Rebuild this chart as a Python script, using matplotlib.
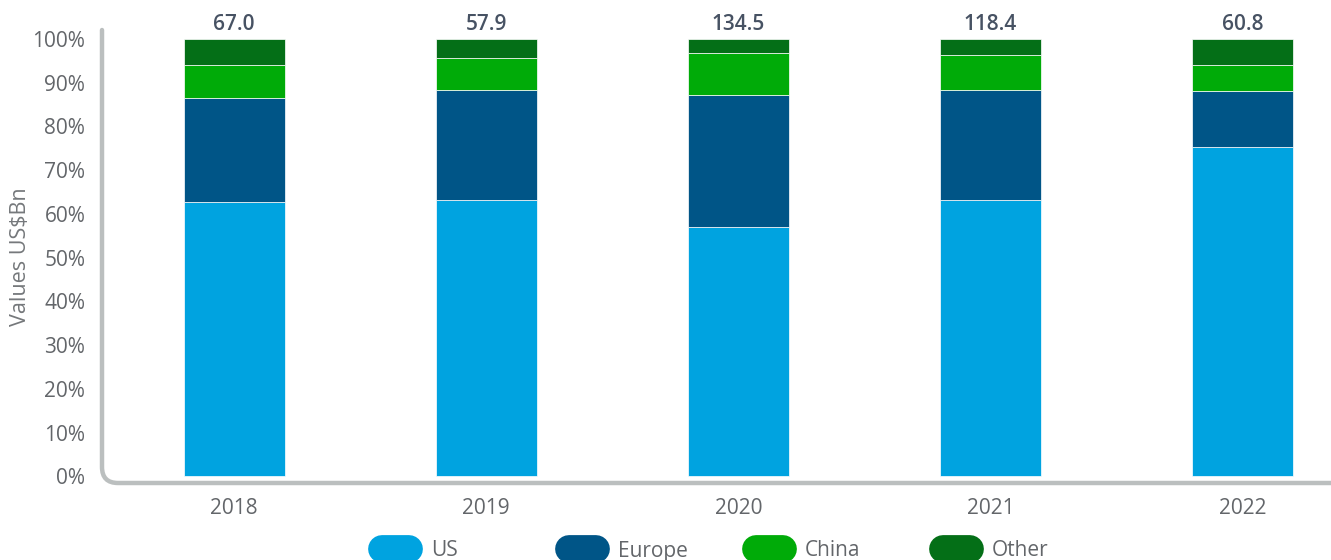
import numpy as np
import matplotlib
matplotlib.use('Agg')
import matplotlib.pyplot as plt
from matplotlib.path import Path
from matplotlib.patches import PathPatch
from matplotlib.lines import Line2D

plt.rcParams['font.family'] = ['Open Sans', 'DejaVu Sans']

# share of total deal value by region (%), and total value (US$Bn)
years = ['2018', '2019', '2020', '2021', '2022']
us = [62.8, 63.2, 57.0, 63.2, 75.2]
europe = [23.7, 25.1, 30.2, 25.1, 12.8]
china = [7.6, 7.4, 9.6, 7.9, 6.1]
other = [5.9, 4.3, 3.2, 3.8, 5.9]
totals = [67.0, 57.9, 134.5, 118.4, 60.8]

series = [('US', us, '#00A3E0'),
          ('Europe', europe, '#005587'),
          ('China', china, '#00AB08'),
          ('Other', other, '#046F17')]

grey = '#63666A'
axis_grey = '#BBBFBF'

W, H = 1331, 560
fig = plt.figure(figsize=(W / 100, H / 100), dpi=100)
ax = fig.add_axes([102 / W, 1 - 483 / H, 1 - 102 / W, (483 - 30) / H])

x = np.arange(len(years))
bottom = np.zeros(len(years))
for name, vals, col in series:
    ax.bar(x, vals, 0.4, bottom=bottom, color=col, edgecolor='white',
           linewidth=0.5, label=name, zorder=2)
    bottom += np.array(vals)

for xi, t in zip(x, totals):
    ax.text(xi, 1.0, '{:.1f}'.format(t), transform=ax.get_xaxis_transform(),
            ha='center', va='baseline', fontsize=15, fontweight='semibold',
            color='#475263')

ax.set_xlim(-0.524, 4.35)
ax.set_ylim(-1.5, 102)
ax.set_xticks(x)
ax.set_xticklabels(years)
ax.set_yticks(np.arange(0, 101, 10))
ax.set_yticklabels(['{}%'.format(v) for v in range(0, 101, 10)])
ax.tick_params(axis='both', length=0, labelsize=15, labelcolor=grey)
ax.tick_params(axis='x', pad=11)
ax.tick_params(axis='y', pad=12)
for s in ax.spines.values():
    s.set_visible(False)
ax.set_ylabel('Values US$Bn', fontsize=15.5, color='#75787B', labelpad=1)

# L-shaped axis line with a rounded corner
r = 16
rx = r / (W - 102)
ry = r / (483 - 30)
verts = [(0, 1), (0, ry), (0, 0), (rx, 0), (1, 0)]
codes = [Path.MOVETO, Path.LINETO, Path.CURVE3, Path.CURVE3, Path.LINETO]
ax.add_patch(PathPatch(Path(verts, codes), transform=ax.transAxes,
                       fill=False, edgecolor=axis_grey, linewidth=3.2,
                       capstyle='round', clip_on=False, zorder=3))

# legend: rounded pills along the bottom edge
ly = 1 - 549 / H
for i, (name, vals, col) in enumerate(series):
    x0 = 368 + i * 187
    fig.add_artist(Line2D([(x0 + 14) / W, (x0 + 41) / W], [ly, ly],
                          transform=fig.transFigure, color=col,
                          linewidth=20, solid_capstyle='round'))
    fig.text((x0 + 63) / W, 1 - 551 / H, name, ha='left', va='center',
             fontsize=15, color=grey)

fig.savefig('out.png', dpi=100)
